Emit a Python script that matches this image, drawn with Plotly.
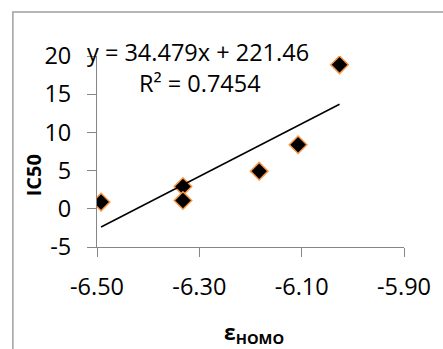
import plotly.graph_objects as go

# Data
homo = [-6.492, -6.332, -6.332, -6.183, -6.107, -6.026]
ic50 = [0.88, 2.92, 1.09, 4.93, 8.38, 18.85]
slope = 34.479
intercept = 221.46
eq_text = "y = 34.479x + 221.46"
r2_text = "R² = 0.7454"
x_ticks = [-6.50, -6.30, -6.10, -5.90]
y_ticks = [-5, 0, 5, 10, 15, 20]

FONT = "Open Sans"
AX = "#868686"
FS = 23.5

x_line = [min(homo), max(homo)]
y_line = [slope * v + intercept for v in x_line]

fig = go.Figure()
fig.add_trace(go.Scatter(
    x=homo, y=ic50, mode="markers",
    marker=dict(symbol="diamond", size=13.5, color="black",
                line=dict(color="#F79646", width=1.5)),
    showlegend=False, hoverinfo="skip"))
fig.add_trace(go.Scatter(
    x=x_line, y=y_line, mode="lines",
    line=dict(color="black", width=1.5),
    showlegend=False, hoverinfo="skip"))

fig.update_layout(
    width=443, height=349,
    margin=dict(l=97, r=32, t=56, b=102),
    paper_bgcolor="white", plot_bgcolor="white",
    font=dict(family=FONT, size=FS, color="black"),
    xaxis=dict(range=[-6.5, -5.9], tickvals=x_ticks,
               ticktext=[f"{v:.2f}" for v in x_ticks],
               showgrid=False, zeroline=False, showline=True,
               linecolor=AX, linewidth=1, ticks="outside",
               ticklen=9, tickcolor=AX, tickfont=dict(size=FS),
               ticklabelstandoff=10),
    yaxis=dict(range=[-5, 20], tickvals=y_ticks,
               ticktext=[str(v) for v in y_ticks],
               showgrid=False, zeroline=False, showline=True,
               linecolor=AX, linewidth=1, ticks="outside",
               ticklen=9, tickcolor=AX, tickfont=dict(size=FS),
               ticklabelstandoff=11),
    annotations=[
        dict(text=eq_text, xref="paper", yref="paper", x=0.328, y=1.02,
             showarrow=False, font=dict(size=FS), xanchor="center", yanchor="middle"),
        dict(text=r2_text, xref="paper", yref="paper", x=0.334, y=0.859,
             showarrow=False, font=dict(size=FS), xanchor="center", yanchor="middle"),
        dict(text="<b>IC50</b>", xref="paper", yref="paper", x=-0.204, y=0.377,
             showarrow=False, textangle=-90, font=dict(size=20),
             xanchor="center", yanchor="middle"),
        dict(text="<b>ε<sub>HOMO</sub></b>", xref="paper", yref="paper",
             x=0.51, y=-0.45, showarrow=False, font=dict(size=21),
             xanchor="center", yanchor="middle"),
    ],
    shapes=[dict(type="rect", xref="paper", yref="paper",
                 x0=-0.274, y0=-0.6, x1=1.2, y1=1.2304,
                 line=dict(color="#A0A0A0", width=1.5), layer="below")],
)

fig.write_html("out.html")
